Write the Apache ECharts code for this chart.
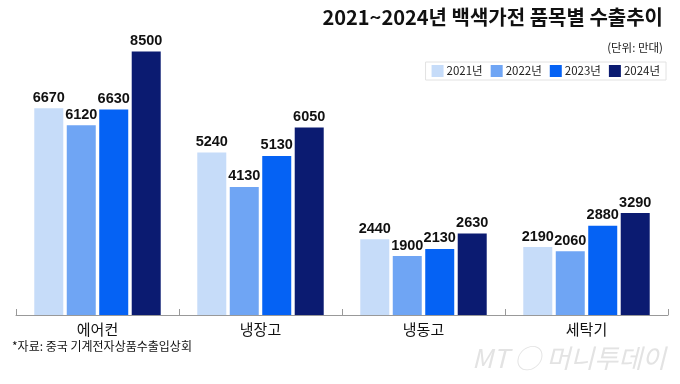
<!DOCTYPE html>
<html><head><meta charset="utf-8">
<script src="https://cdn.jsdelivr.net/npm/echarts@6/dist/echarts.min.js"></script>
<style>html,body{margin:0;padding:0;background:#fff}#c{width:680px;height:384px}</style>
</head><body><div id="c"></div>
<script>
const categories = ['에어컨', '냉장고', '냉동고', '세탁기'];
const years = ['2021년', '2022년', '2023년', '2024년'];
const v2021 = [6670, 5240, 2440, 2190];
const v2022 = [6120, 4130, 1900, 2060];
const v2023 = [6630, 5130, 2130, 2880];
const v2024 = [8500, 6050, 2630, 3290];
const colors = ['#c6dcf9', '#6fa5f4', '#0562f4', '#0b1b71'];
const NUM_FONT = '"Liberation Sans", Arial, sans-serif';
const KR_FONT = '"Noto Sans CJK KR", sans-serif';

const chart = echarts.init(document.getElementById('c'), null, {renderer: 'canvas'});
const allVals = [v2021, v2022, v2023, v2024];
const series = allVals.map((d, i) => ({
  name: years[i], type: 'bar', data: d,
  barWidth: 29, barGap: '12%',
  itemStyle: {color: colors[i]},
  label: {show: true, position: 'top', distance: 3, color: '#111',
    fontFamily: NUM_FONT, fontWeight: 'bold', fontSize: 14.5}
}));

chart.setOption({
  animation: false,
  backgroundColor: '#fff',
  grid: {left: 16, right: 12, top: 5, bottom: 69},
  legend: {
    right: 14, top: 62, orient: 'horizontal',
    itemWidth: 12, itemHeight: 12, itemGap: 8,
    borderColor: '#e2e2e2', borderWidth: 1, padding: [3, 6, 3, 6],
    icon: 'rect',
    textStyle: {fontFamily: KR_FONT, fontSize: 11.5, color: '#222', padding: [0, 0, 0, -2]},
    data: years
  },
  xAxis: {
    type: 'category', data: categories,
    axisLine: {lineStyle: {color: '#999', width: 1}},
    axisTick: {show: true, inside: true, length: 6, lineStyle: {color: '#999'}},
    axisLabel: {color: '#111', fontFamily: KR_FONT, fontSize: 15, margin: 7}
  },
  yAxis: {type: 'value', min: 0, max: 10000, show: false, splitLine: {show: false}},
  series: series,
  graphic: [
    {type: 'text', right: 17, top: 7,
      style: {text: '2021~2024년 백색가전 품목별 수출추이', font: 'bold 20px ' + KR_FONT, fill: '#111'}},
    {type: 'text', right: 17, top: 42,
      style: {text: '(단위: 만대)', font: '11.5px ' + KR_FONT, fill: '#222'}},
    {type: 'text', left: 12, top: 340,
      style: {text: '*자료: 중국 기계전자상품수출입상회', font: '12px ' + KR_FONT, fill: '#111'}},
    {type: 'text', right: 14, top: 345,
      style: {text: 'MT ◯ 머니투데이', font: 'italic 26px ' + KR_FONT, fill: '#e3e3e3'}}
  ]
});
</script></body></html>
